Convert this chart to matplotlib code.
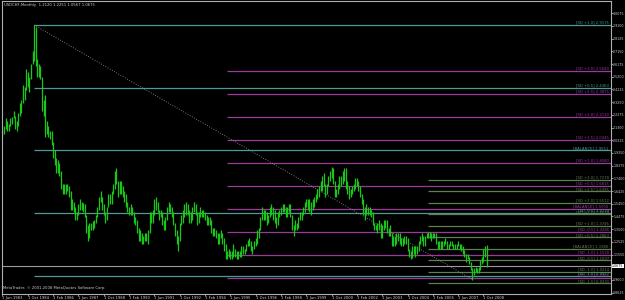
import matplotlib
matplotlib.use("Agg")
import matplotlib.pyplot as plt
import numpy as np

# ---- data: USDCHF monthly bars, Jun 1983 .. Dec 2008 ----
highs = [
    2.12, 2.14, 2.20, 2.18, 2.16, 2.20, 2.21,
    2.26, 2.22, 2.18, 2.24, 2.32, 2.34, 2.46, 2.44, 2.58, 2.56, 2.52, 2.62,
    2.72, 2.92, 2.90, 2.66, 2.62, 2.60, 2.52, 2.34, 2.38, 2.18, 2.14, 2.10,
    2.10, 2.02, 1.96, 1.90, 1.88, 1.86, 1.80, 1.70, 1.70, 1.70, 1.70, 1.68,
    1.64, 1.58, 1.56, 1.52, 1.48, 1.54, 1.58, 1.56, 1.55, 1.54, 1.46, 1.38,
    1.40, 1.40, 1.41, 1.42, 1.46, 1.52, 1.60, 1.64, 1.60, 1.54, 1.48, 1.52,
    1.62, 1.62, 1.64, 1.70, 1.80, 1.82, 1.72, 1.72, 1.72, 1.68, 1.64, 1.62,
    1.56, 1.52, 1.54, 1.52, 1.48, 1.44, 1.42, 1.36, 1.34, 1.32, 1.30, 1.32,
    1.32, 1.34, 1.48, 1.48, 1.50, 1.58, 1.60, 1.56, 1.50, 1.50, 1.48, 1.42,
    1.44, 1.52, 1.56, 1.54, 1.52, 1.48, 1.40, 1.34, 1.30, 1.40, 1.46, 1.50,
    1.54, 1.56, 1.54, 1.50, 1.48, 1.52, 1.56, 1.54, 1.48, 1.48, 1.52, 1.50,
    1.50, 1.48, 1.46, 1.44, 1.44, 1.42, 1.36, 1.36, 1.34, 1.32, 1.32, 1.34,
    1.32, 1.28, 1.24, 1.18, 1.20, 1.18, 1.18, 1.24, 1.20, 1.18, 1.18, 1.18,
    1.22, 1.22, 1.20, 1.24, 1.27, 1.28, 1.26, 1.22, 1.26, 1.28, 1.34, 1.36,
    1.44, 1.52, 1.50, 1.50, 1.48, 1.46, 1.52, 1.54, 1.52, 1.50, 1.44, 1.48,
    1.50, 1.52, 1.54, 1.54, 1.52, 1.52, 1.54, 1.54, 1.46, 1.38, 1.42, 1.40,
    1.44, 1.48, 1.48, 1.52, 1.56, 1.58, 1.58, 1.58, 1.56, 1.58, 1.60, 1.62,
    1.66, 1.68, 1.72, 1.76, 1.78, 1.70, 1.70, 1.76, 1.80, 1.83, 1.82, 1.72,
    1.66, 1.70, 1.76, 1.76, 1.80, 1.82, 1.82, 1.72, 1.68, 1.66, 1.68, 1.70,
    1.74, 1.74, 1.72, 1.68, 1.62, 1.58, 1.52, 1.54, 1.52, 1.52, 1.50, 1.48,
    1.40, 1.38, 1.40, 1.42, 1.40, 1.38, 1.42, 1.42, 1.42, 1.36, 1.38, 1.32,
    1.30, 1.30, 1.32, 1.32, 1.32, 1.28, 1.28, 1.30, 1.30, 1.28, 1.20, 1.18,
    1.22, 1.22, 1.22, 1.22, 1.26, 1.30, 1.32, 1.30, 1.30, 1.32, 1.33, 1.33,
    1.32, 1.32, 1.32, 1.32, 1.26, 1.26, 1.26, 1.26, 1.26, 1.28, 1.26, 1.24,
    1.26, 1.26, 1.24, 1.24, 1.24, 1.26, 1.24, 1.24, 1.22, 1.19, 1.16, 1.16,
    1.14, 1.10, 1.05, 1.05, 1.06, 1.05, 1.06, 1.11, 1.14, 1.20, 1.22, 1.23,
]
lows = [
    2.06, 2.08, 2.12, 2.10, 2.10, 2.14, 2.16,
    2.20, 2.12, 2.10, 2.14, 2.22, 2.24, 2.32, 2.34, 2.42, 2.44, 2.40, 2.50,
    2.62, 2.64, 2.60, 2.52, 2.52, 2.50, 2.26, 2.22, 2.06, 2.08, 2.06, 2.04,
    2.00, 1.90, 1.84, 1.78, 1.78, 1.76, 1.66, 1.62, 1.62, 1.62, 1.64, 1.60,
    1.50, 1.50, 1.48, 1.42, 1.42, 1.46, 1.50, 1.50, 1.48, 1.44, 1.32, 1.26,
    1.28, 1.34, 1.34, 1.36, 1.40, 1.44, 1.50, 1.56, 1.50, 1.46, 1.40, 1.42,
    1.52, 1.54, 1.54, 1.62, 1.66, 1.70, 1.60, 1.62, 1.62, 1.60, 1.56, 1.52,
    1.48, 1.46, 1.46, 1.46, 1.40, 1.38, 1.32, 1.26, 1.26, 1.24, 1.24, 1.26,
    1.26, 1.24, 1.32, 1.40, 1.40, 1.46, 1.50, 1.48, 1.42, 1.44, 1.38, 1.34,
    1.34, 1.42, 1.48, 1.48, 1.44, 1.38, 1.30, 1.24, 1.18, 1.26, 1.38, 1.40,
    1.44, 1.46, 1.46, 1.40, 1.40, 1.42, 1.48, 1.46, 1.38, 1.40, 1.44, 1.44,
    1.44, 1.42, 1.38, 1.38, 1.38, 1.32, 1.30, 1.30, 1.28, 1.24, 1.24, 1.28,
    1.24, 1.18, 1.12, 1.12, 1.14, 1.12, 1.12, 1.14, 1.14, 1.12, 1.12, 1.14,
    1.14, 1.16, 1.16, 1.18, 1.22, 1.22, 1.18, 1.16, 1.20, 1.22, 1.24, 1.28,
    1.34, 1.42, 1.42, 1.42, 1.38, 1.40, 1.44, 1.46, 1.42, 1.40, 1.36, 1.38,
    1.44, 1.46, 1.48, 1.48, 1.44, 1.44, 1.48, 1.44, 1.34, 1.30, 1.34, 1.34,
    1.36, 1.42, 1.42, 1.46, 1.48, 1.52, 1.50, 1.48, 1.46, 1.50, 1.52, 1.56,
    1.58, 1.60, 1.64, 1.64, 1.68, 1.60, 1.62, 1.68, 1.72, 1.74, 1.70, 1.60,
    1.60, 1.62, 1.66, 1.68, 1.70, 1.72, 1.66, 1.62, 1.58, 1.60, 1.62, 1.64,
    1.66, 1.68, 1.64, 1.60, 1.54, 1.46, 1.42, 1.46, 1.46, 1.46, 1.44, 1.38,
    1.34, 1.34, 1.32, 1.34, 1.28, 1.28, 1.34, 1.36, 1.32, 1.30, 1.30, 1.22,
    1.22, 1.22, 1.24, 1.26, 1.24, 1.22, 1.22, 1.24, 1.24, 1.18, 1.14, 1.12,
    1.13, 1.16, 1.14, 1.16, 1.18, 1.24, 1.26, 1.22, 1.22, 1.28, 1.28, 1.28,
    1.26, 1.28, 1.28, 1.24, 1.20, 1.20, 1.20, 1.20, 1.22, 1.24, 1.20, 1.20,
    1.22, 1.22, 1.20, 1.20, 1.20, 1.22, 1.20, 1.18, 1.16, 1.14, 1.10, 1.12,
    1.08, 1.04, 0.96, 1.00, 1.02, 1.01, 1.01, 1.04, 1.08, 1.10, 1.14, 1.06,
]

# standard deviation level sets (start bar, values, names)
sd_names_a = ["[SD +1.0]", "[SD +0.5]", "[BALANCE]", "[SD -0.5]", "[SD -1.0]"]
sd_vals_a = [2.9175, 2.4363, 1.9551, 1.4739, 0.9927]
sd_start_a = 20

sd_names_b = ["[SD +3.0]", "[SD +2.5]", "[SD +2.0]", "[SD +1.5]", "[SD +1.0]",
              "[SD +0.5]", "[BALANCE]", "[SD -0.5]", "[SD -1.0]", "[SD -1.5]"]
sd_vals_b = [2.5640, 2.3875, 2.2110, 2.0345, 1.8580, 1.6815, 1.5050, 1.3285, 1.1520, 0.9755]
sd_start_b = 142

sd_names_c = sd_names_b
sd_vals_c = [1.7278, 1.6395, 1.5512, 1.4629, 1.3746, 1.2863, 1.1980, 1.1097, 1.0214, 0.9331]
sd_start_c = 269

trend_from = (20, 2.9175)
trend_to = (297, 0.9636)

price_ticks = [0.8625, 0.9600, 1.1550, 1.2525, 1.3500, 1.4475, 1.5450, 1.6425, 1.7400,
               1.8375, 1.9350, 2.0325, 2.1300, 2.2275, 2.3250, 2.4225, 2.5200, 2.6175,
               2.7150, 2.8125, 2.9100, 3.0075]
last_price = 1.0675

date_labels = ["1 Jun 1983", "1 Oct 1984", "1 Feb 1986", "1 Jun 1987", "1 Oct 1988",
               "1 Feb 1990", "1 Jun 1991", "1 Oct 1992", "1 Feb 1994", "1 Jun 1995",
               "1 Oct 1996", "1 Feb 1998", "1 Jun 1999", "1 Oct 2000", "1 Feb 2002",
               "1 Jun 2003", "1 Oct 2004", "1 Feb 2006", "1 Jun 2007", "1 Oct 2008"]

title_txt = "USDCHF,Monthly  1.2120 1.2251 1.0567 1.0675"

# ---- figure ----
W, H = 625, 300
fig = plt.figure(figsize=(6.25, 3), dpi=100, facecolor="black")
ax = fig.add_axes([2 / W, 6 / H, 609 / W, 293 / H], facecolor="black")

n = len(highs)
months = np.arange(n)
x_right = 384.6
ax.set_xlim(-0.3, x_right)
ax.set_ylim(0.8525, 3.1016)

GREEN = "#18c818"
CYAN = "#4f9a93"
MAG = "#9a3a9a"
OLIVE = "#5f7f4f"
FS = 2.7
FS_Y = 2.35

def level_set(names, vals, start, color):
    for nm, v in zip(names, vals):
        ax.hlines(v, start, x_right, color=color, lw=0.9)
        ax.text(x_right - 1.5, v + 0.003, f"{nm} {v:.4f}", color=color,
                fontsize=FS, ha="right", va="bottom")

level_set(sd_names_a, sd_vals_a, sd_start_a, CYAN)
level_set(sd_names_b, sd_vals_b, sd_start_b, MAG)
level_set(sd_names_c, sd_vals_c, sd_start_c, OLIVE)

# bid line
ax.axhline(last_price, color="#9a9a9a", lw=0.8)

# trend line peak -> low
ax.plot([trend_from[0], trend_to[0]], [trend_from[1], trend_to[1]],
        color="#9a9a9a", lw=0.6, ls=(0, (1, 2)))

# bars
ax.vlines(months, lows, highs, color=GREEN, lw=0.9)

# axes frame
for s in ax.spines.values():
    s.set_color("#b0b0b0")
    s.set_linewidth(0.8)

ax.yaxis.tick_right()
ax.set_yticks(price_ticks)
ax.set_yticklabels([f"{t:.4f}" for t in price_ticks])
ax.tick_params(axis="y", colors="#d0d0d0", labelsize=FS_Y, length=1.2, width=0.5, pad=0.4)

ax.set_xticks([16 * i for i in range(len(date_labels))])
ax.set_xticklabels(date_labels, ha="left")
ax.tick_params(axis="x", colors="#d0d0d0", labelsize=FS, length=1.5, width=0.5,
               pad=0.2, direction="out")

# current price box on the scale
ax.text(1.0015, last_price, f"{last_price:.4f}", transform=ax.get_yaxis_transform(),
        fontsize=FS_Y, color="black", ha="left", va="center",
        bbox=dict(boxstyle="square,pad=0.12", fc="white", ec="none"))

ax.text(0.004, 0.992, title_txt, transform=ax.transAxes, color="#d0d0d0",
        fontsize=FS, ha="left", va="top")
ax.text(0.002, 0.012, "MetaTrader, \u00a9 2001-2008 MetaQuotes Software Corp.",
        transform=ax.transAxes, color="#d0d0d0", fontsize=FS, ha="left", va="bottom")

fig.savefig("out.png", dpi=100, facecolor="black")
